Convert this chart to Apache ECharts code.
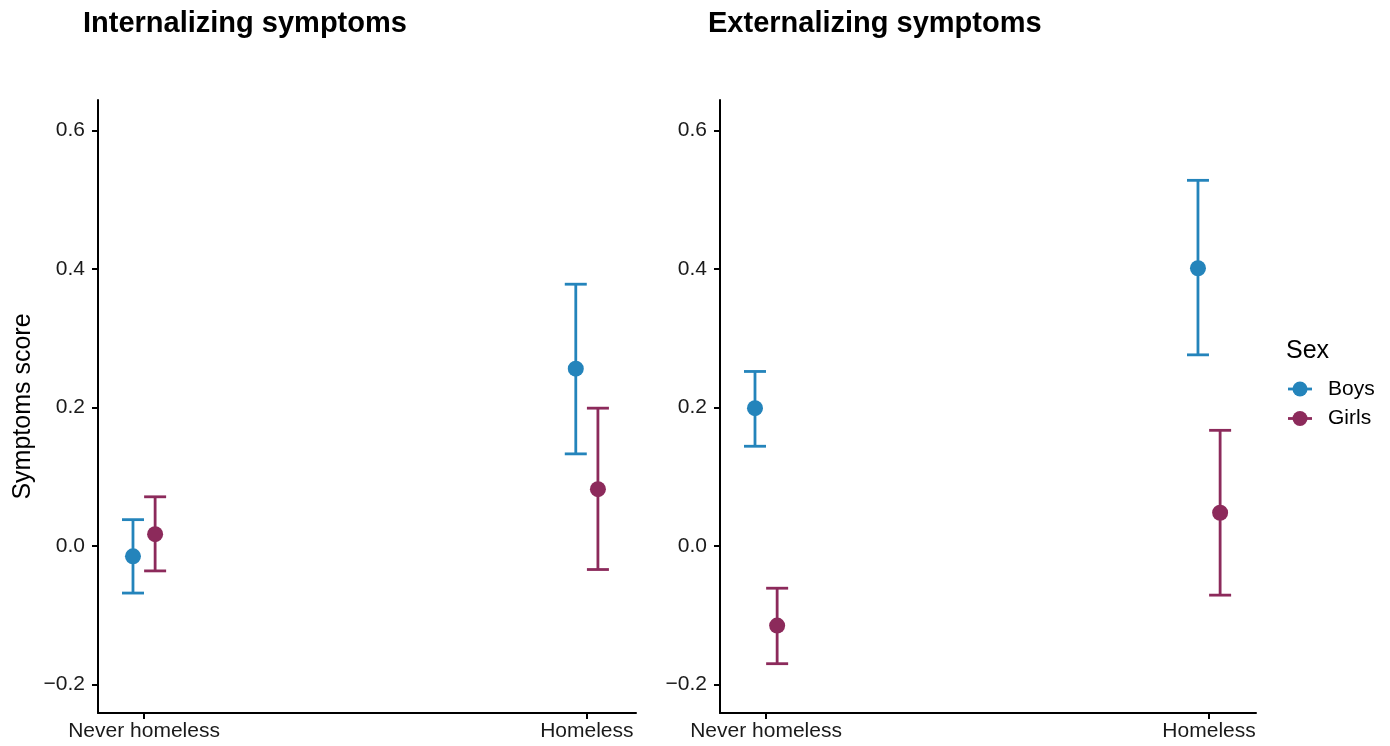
<!DOCTYPE html>
<html>
<head>
<meta charset="utf-8">
<script src="https://cdn.jsdelivr.net/npm/echarts@6/dist/echarts.min.js"></script>
<style>html,body{margin:0;padding:0;background:#fff}#c{width:1390px;height:746px}</style>
</head>
<body>
<div id="c"></div>
<script>
const categories = ['Never homeless', 'Homeless'];
const yTicks = [-0.2, 0, 0.2, 0.4, 0.6];
const panelTitles = ['Internalizing symptoms', 'Externalizing symptoms'];
const seriesNames = ['Boys', 'Girls'];
const legendTitle = 'Sex';

// Internalizing
const intBoysMean = [-0.015, 0.256];
const intBoysLow  = [-0.068, 0.133];
const intBoysHigh = [0.038, 0.378];
const intGirlsMean = [0.017, 0.082];
const intGirlsLow  = [-0.036, -0.034];
const intGirlsHigh = [0.071, 0.199];

// Externalizing
const extBoysMean = [0.199, 0.401];
const extBoysLow  = [0.144, 0.276];
const extBoysHigh = [0.252, 0.528];
const extGirlsMean = [-0.115, 0.048];
const extGirlsLow  = [-0.170, -0.071];
const extGirlsHigh = [-0.061, 0.167];

const colors = {Boys: '#2484bb', Girls: '#8c2a5b'};
const dodge = {Boys: -0.025, Girls: 0.025};

const chart = echarts.init(document.getElementById('c'));
const font = 'Liberation Sans, Arial, Helvetica, sans-serif';

function axisX(gi) {
  return {
    type: 'value', gridIndex: gi, min: 0.896, max: gi === 0 ? 2.111 : 2.106,
    axisLine: {show: true, onZero: false, lineStyle: {color: '#000', width: 2}},
    axisTick: {show: true, customValues: [1, 2], length: 6, lineStyle: {color: '#000', width: 2}},
    axisLabel: {customValues: [1, 2], formatter: v => categories[Math.round(v) - 1],
      fontSize: 21, color: '#1a1a1a', fontFamily: font, margin: 8},
    splitLine: {show: false}
  };
}
function axisY(gi) {
  return {
    type: 'value', gridIndex: gi, min: -0.2412, max: 0.644,
    name: gi === 0 ? 'Symptoms score' : '', nameLocation: 'middle', nameGap: 62,
    nameTextStyle: {fontSize: 25, color: '#000', fontFamily: font},
    axisLine: {show: true, onZero: false, lineStyle: {color: '#000', width: 2}},
    axisTick: {show: true, customValues: yTicks, length: 6, lineStyle: {color: '#000', width: 2}},
    axisLabel: {customValues: yTicks, fontSize: 21, color: '#1a1a1a', fontFamily: font, margin: 13,
      formatter: v => { const s = Math.abs(v).toFixed(1); return v < -1e-9 ? '\u2212' + s : s; }},
    splitLine: {show: false}
  };
}

function errSeries(name, gi, low, high) {
  const data = categories.map((c, i) => [i + 1 + dodge[name], low[i], high[i]]);
  return {
    type: 'custom', name: name, xAxisIndex: gi, yAxisIndex: gi,
    itemStyle: {color: colors[name]},
    renderItem: function (params, api) {
      const x = api.value(0);
      const p1 = api.coord([x, api.value(1)]);
      const p2 = api.coord([x, api.value(2)]);
      const hw = 11;
      const st = {stroke: colors[name], lineWidth: 2.8, fill: null};
      return {type: 'group', children: [
        {type: 'line', shape: {x1: p1[0], y1: p1[1], x2: p2[0], y2: p2[1]}, style: st},
        {type: 'line', shape: {x1: p1[0] - hw, y1: p1[1], x2: p1[0] + hw, y2: p1[1]}, style: st},
        {type: 'line', shape: {x1: p2[0] - hw, y1: p2[1], x2: p2[0] + hw, y2: p2[1]}, style: st}
      ]};
    },
    encode: {x: 0, y: [1, 2]},
    data: data, z: 2, silent: true
  };
}
function ptSeries(name, gi, mean) {
  return {
    type: 'scatter', name: name, xAxisIndex: gi, yAxisIndex: gi,
    symbol: 'circle', symbolSize: 16,
    itemStyle: {color: colors[name], opacity: 1},
    data: categories.map((c, i) => [i + 1 + dodge[name], mean[i]]),
    z: 3, silent: true
  };
}

// legend drawn as graphic (ggplot-style key: short line with a dot)
const legendGraphics = [
  {type: 'text', left: 1286, top: 339, style: {text: legendTitle, fontSize: 25, fill: '#000', fontFamily: font}}
];
seriesNames.forEach((n, i) => {
  const cy = 389 + i * 29.5;
  legendGraphics.push(
    {type: 'line', shape: {x1: 1288, y1: cy, x2: 1312, y2: cy}, style: {stroke: colors[n], lineWidth: 2.8}},
    {type: 'circle', shape: {cx: 1300, cy: cy, r: 7.5}, style: {fill: colors[n]}},
    {type: 'text', x: 1328, y: cy, style: {text: n, fontSize: 21, fill: '#000', fontFamily: font, verticalAlign: 'middle', align: 'left'}}
  );
});

chart.setOption({
  animation: false,
  backgroundColor: '#fff',
  title: [
    {text: panelTitles[0], left: 83, top: 9, padding: 0, textStyle: {fontSize: 29, fontWeight: 'bold', color: '#000', fontFamily: font}},
    {text: panelTitles[1], left: 708, top: 9, padding: 0, textStyle: {fontSize: 29, fontWeight: 'bold', color: '#000', fontFamily: font}}
  ],
  grid: [
    {left: 98, right: 754, top: 100, bottom: 33, containLabel: false, outerBoundsMode: 'none'},
    {left: 720, right: 134, top: 100, bottom: 33, containLabel: false, outerBoundsMode: 'none'}
  ],
  xAxis: [axisX(0), axisX(1)],
  yAxis: [axisY(0), axisY(1)],
  graphic: legendGraphics,
  series: [
    errSeries('Boys', 0, intBoysLow, intBoysHigh),
    errSeries('Girls', 0, intGirlsLow, intGirlsHigh),
    ptSeries('Boys', 0, intBoysMean),
    ptSeries('Girls', 0, intGirlsMean),
    errSeries('Boys', 1, extBoysLow, extBoysHigh),
    errSeries('Girls', 1, extGirlsLow, extGirlsHigh),
    ptSeries('Boys', 1, extBoysMean),
    ptSeries('Girls', 1, extGirlsMean)
  ]
});
</script>
</body>
</html>
